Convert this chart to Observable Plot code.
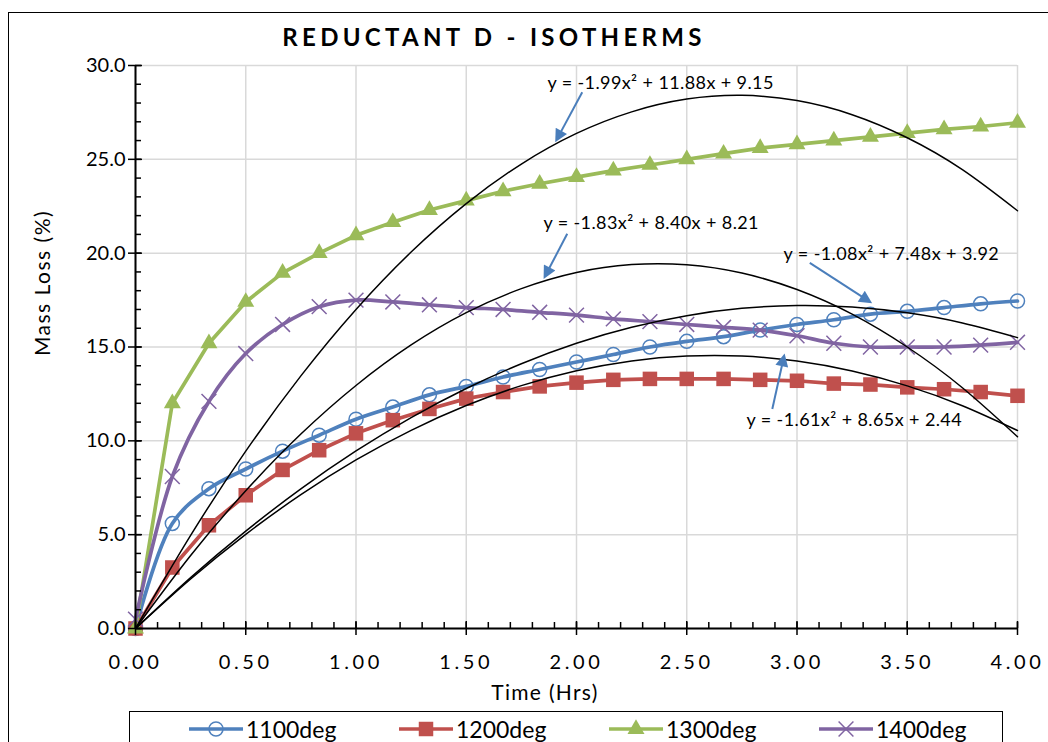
<!DOCTYPE html>
<html>
<head>
<meta charset="utf-8">
<script src="https://cdn.jsdelivr.net/npm/d3@7"></script>
<script src="https://cdn.jsdelivr.net/npm/@observablehq/plot@0.6"></script>
<style>
  body { margin: 0; background: #fff; font-family: Lato, "Open Sans", sans-serif; }
  #wrap { position: relative; width: 1048px; height: 742px; overflow: hidden; background: #fff; }
  #frame { position: absolute; left: 8px; top: 12px; width: 1100px; height: 800px; border: 1.5px solid #000; box-sizing: border-box; }
  #chart { position: absolute; left: 0; top: 0; }
  #title { position: absolute; left: 0; top: 22px; width: 988px; text-align: center; font-weight: bold; font-size: 24px; letter-spacing: 4.3px; color: #000; }
  #xtitle { position: absolute; left: 445px; width: 200px; top: 679px; text-align: center; font-size: 21px; letter-spacing: 1.3px; color: #000; }
  #ytitle { position: absolute; left: 41px; top: 283px; transform: translate(-50%, -50%) rotate(-90deg); white-space: nowrap; font-size: 21px; letter-spacing: 1.5px; color: #000; }
  #legend { position: absolute; left: 129px; top: 711px; width: 874px; height: 60px; border: 1.5px solid #000; box-sizing: border-box; background: #fff; }
  .item { position: absolute; top: 3px; display: flex; align-items: center; font-size: 23px; }
  .item svg { display: block; margin-right: 3px; }
</style>
</head>
<body>
<div id="wrap">
  <div id="frame"></div>
  <div id="chart"></div>
  <div id="title">REDUCTANT D - ISOTHERMS</div>
  <div id="xtitle">Time (Hrs)</div>
  <div id="ytitle">Mass Loss (%)</div>
  <div id="legend"></div>
</div>
<script>
// ---------- data ----------
const time = [0, 0.167, 0.333, 0.5, 0.667, 0.833, 1, 1.167, 1.333, 1.5, 1.667, 1.833, 2,
              2.167, 2.333, 2.5, 2.667, 2.833, 3, 3.167, 3.333, 3.5, 3.667, 3.833, 4];
const s1100 = [0, 5.6, 7.45, 8.5, 9.45, 10.3, 11.15, 11.8, 12.45, 12.9, 13.4, 13.8, 14.2,
               14.6, 15.0, 15.3, 15.55, 15.9, 16.2, 16.45, 16.75, 16.9, 17.1, 17.3, 17.45];
const s1200 = [0, 3.25, 5.5, 7.1, 8.45, 9.5, 10.4, 11.1, 11.7, 12.25, 12.6, 12.9, 13.1,
               13.25, 13.3, 13.3, 13.3, 13.25, 13.2, 13.05, 13.0, 12.85, 12.75, 12.6, 12.4];
const s1300 = [0, 12.0, 15.2, 17.4, 18.95, 20.0, 20.95, 21.65, 22.3, 22.8, 23.3, 23.7, 24.05,
               24.4, 24.7, 25.0, 25.3, 25.6, 25.8, 26.0, 26.2, 26.4, 26.6, 26.75, 26.95];
const s1400 = [0.5, 8.1, 12.1, 14.65, 16.2, 17.15, 17.5, 17.4, 17.25, 17.1, 17.0, 16.85, 16.7,
               16.5, 16.35, 16.2, 16.05, 15.9, 15.6, 15.2, 15.0, 15.0, 15.0, 15.1, 15.25];
const seriesNames = ["1100deg", "1200deg", "1300deg", "1400deg"];

// trendline curves
const trendX = [0, 0.25, 0.5, 0.75, 1, 1.25, 1.5, 1.75, 2, 2.25, 2.5, 2.75, 3, 3.25, 3.5, 3.75, 4];
const trend1 = [0, 4.96, 9.45, 13.46, 17.0, 20.06, 22.64, 24.75, 26.38, 27.53, 28.21, 28.41, 28.13, 27.38, 26.15, 24.45, 22.26];
const trend2 = [0, 3.89, 7.34, 10.36, 12.95, 15.11, 16.83, 18.11, 18.97, 19.39, 19.38, 18.94, 18.06, 16.75, 15.0, 12.83, 10.22];
const trend3 = [0, 2.71, 5.19, 7.44, 9.46, 11.24, 12.79, 14.11, 15.2, 16.05, 16.67, 17.06, 17.21, 17.13, 16.82, 16.28, 15.5];
const trend4 = [0, 2.64, 5.02, 7.13, 8.98, 10.56, 11.88, 12.94, 13.73, 14.26, 14.52, 14.52, 14.25, 13.72, 12.93, 11.87, 10.55];

// equation annotations
const eqText = ["y = -1.99x² + 11.88x + 9.15", "y = -1.83x² + 8.40x + 8.21",
                "y = -1.08x² + 7.48x + 3.92", "y = -1.61x² + 8.65x + 2.44"];
const eqX = [1.868, 1.850, 2.939, 2.771];
const eqY = [29.04, 21.59, 19.93, 11.08];
const arrowX1 = [2.026, 1.958, 3.058, 2.888];
const arrowY1 = [28.57, 21.03, 19.48, 11.70];
const arrowX2 = [1.912, 1.859, 3.326, 2.940];
const arrowY2 = [26.09, 18.81, 17.44, 14.45];

// axis ticks
const xTicks = [0, 0.5, 1, 1.5, 2, 2.5, 3, 3.5, 4];
const yTicks = [0, 5, 10, 15, 20, 25, 30];
const xMinor = d3.range(0, 41).map(i => i / 10);
const yMinor = d3.range(0, 31);

// ---------- styles ----------
const colors = ["#4F81BD", "#C0504D", "#9BBB59", "#8064A2"];
const arrowColor = "#4A7EBB";

// ---------- tables ----------
const values = [s1100, s1200, s1300, s1400];
const rows = values.map((vals, k) => time.map((t, i) => ({series: seriesNames[k], t, v: vals[i]})));
const trends = [trend1, trend2, trend3, trend4];
const trendRows = trends.flatMap((vals, k) => trendX.map((t, i) => ({id: k, t, v: vals[i]})));
const eqRows = eqText.map((text, i) => ({text, x: eqX[i], y: eqY[i]}));
const arrowRows = arrowX1.map((x1, i) => ({x1, y1: arrowY1[i], x2: arrowX2[i], y2: arrowY2[i]}));

const chart = Plot.plot({
  width: 1048,
  height: 690,
  marginLeft: 135,
  marginRight: 31,
  marginTop: 65,
  marginBottom: 62,
  x: {domain: [0, 4], label: null},
  y: {domain: [0, 30], label: null},
  style: {fontFamily: "Lato, 'Open Sans', sans-serif", fontSize: "19px", color: "#000", background: "transparent", overflow: "visible"},
  marks: [
    Plot.gridX(xTicks, {stroke: "#d9d9d9", strokeOpacity: 1, strokeWidth: 1.5}),
    Plot.gridY(yTicks, {stroke: "#d9d9d9", strokeOpacity: 1, strokeWidth: 1.5}),
    // series lines
    Plot.line(rows[0], {x: "t", y: "v", stroke: colors[0], strokeWidth: 3.7, curve: "catmull-rom"}),
    Plot.line(rows[1], {x: "t", y: "v", stroke: colors[1], strokeWidth: 3.7}),
    Plot.line(rows[2], {x: "t", y: "v", stroke: colors[2], strokeWidth: 3.7}),
    Plot.line(rows[3], {x: "t", y: "v", stroke: colors[3], strokeWidth: 3.7, curve: "catmull-rom"}),
    // markers
    Plot.dot(rows[0], {x: "t", y: "v", r: 7, stroke: colors[0], strokeWidth: 1.5, fill: "none"}),
    Plot.dot(rows[1], {x: "t", y: "v", symbol: "square", r: 8.2, fill: colors[1], stroke: "none"}),
    Plot.dot(rows[2], {x: "t", y: "v", symbol: "triangle", r: 6.3, fill: colors[2], stroke: "none"}),
    Plot.dot(rows[3], {x: "t", y: "v", symbol: "times", r: 6.8, stroke: colors[3], strokeWidth: 1.5}),
    // trendlines
    Plot.line(trendRows, {x: "t", y: "v", z: "id", stroke: "#000", strokeWidth: 1.5, curve: "natural"}),
    // axes lines
    Plot.ruleY([0], {stroke: "#000", strokeWidth: 2}),
    Plot.ruleX([0], {stroke: "#000", strokeWidth: 2}),
    // y ticks
    Plot.axisY(yMinor, {tickSize: 6, dx: 6, tickFormat: () => "", label: null, strokeWidth: 1.5}),
    Plot.axisY(yTicks, {tickSize: 14, dx: 7, tickFormat: () => "", label: null, strokeWidth: 1.5}),
    Plot.axisY(yTicks, {tickSize: 0, tickPadding: 10, tickFormat: d => d.toFixed(1), label: null, fontSize: 20}),
    // x ticks
    Plot.axisX(xMinor, {tickSize: 6, dy: -6, tickFormat: () => "", label: null, strokeWidth: 1.5}),
    Plot.axisX(xTicks, {tickSize: 14, dy: -7, tickFormat: () => "", label: null, strokeWidth: 1.5}),
    Plot.axisX(xTicks, {tickSize: 0, tickPadding: 26, tickFormat: d => d.toFixed(2), label: null, fontSize: 20}),
    // annotations
    Plot.link(arrowRows, {x1: "x1", y1: "y1", x2: "x2", y2: "y2", stroke: arrowColor, strokeWidth: 2}),
    Plot.text(eqRows, {x: "x", y: "y", text: "text", textAnchor: "start", fontSize: 18, fill: "#000"})
  ]
});

// filled arrow heads
const svg = d3.select(chart);
const defs = svg.insert("defs", ":first-child");
defs.append("marker")
  .attr("id", "ahead").attr("viewBox", "0 0 10 10").attr("refX", 7).attr("refY", 5)
  .attr("markerWidth", 7).attr("markerHeight", 6.5).attr("markerUnits", "strokeWidth").attr("orient", "auto")
  .append("path").attr("d", "M0,0L10,5L0,10z").attr("fill", arrowColor);
svg.selectAll("g[aria-label='link'] path").attr("marker-end", "url(#ahead)");
// letter spacing on tick labels and equations
svg.selectAll("g[aria-label='x-axis tick label'] text").style("letter-spacing", "3.6px");
svg.selectAll("g[aria-label='text'] text").style("letter-spacing", "0.4px");

document.getElementById("chart").appendChild(chart);

// ---------- legend ----------
const legend = d3.select("#legend");
const symbolTypes = [null, d3.symbolSquare, d3.symbolTriangle, d3.symbolTimes];
const symbolSizes = [0, 210, 125, 145];
seriesNames.forEach((name, k) => {
  const item = legend.append("div").attr("class", "item").style("left", (59 + k * 210) + "px");
  const s = item.append("svg").attr("width", 54).attr("height", 28);
  s.append("line").attr("x1", 0).attr("x2", 54).attr("y1", 14).attr("y2", 14)
    .attr("stroke", colors[k]).attr("stroke-width", 3.7);
  if (k === 0) {
    s.append("circle").attr("cx", 27).attr("cy", 14).attr("r", 7).attr("fill", "none")
      .attr("stroke", colors[k]).attr("stroke-width", 1.5);
  } else {
    const p = d3.symbol(symbolTypes[k], symbolSizes[k])();
    const path = s.append("path").attr("d", p).attr("transform", "translate(27,14)");
    if (k === 3) path.attr("fill", "none").attr("stroke", colors[k]).attr("stroke-width", 1.5);
    else path.attr("fill", colors[k]);
  }
  item.append("span").text(name);
});
</script>
</body>
</html>
